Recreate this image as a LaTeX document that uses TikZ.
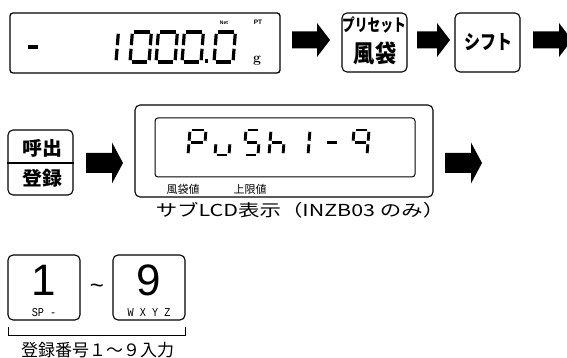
\documentclass[tikz,border=0pt]{standalone}
\usepackage{fontspec}
\usepackage{graphicx}
\newfontfamily\jp{Noto Sans CJK JP}
\newfontfamily\lib{Liberation Sans}
\newfontfamily\libmono{Liberation Mono}
\newcommand\fsz[1]{\fontsize{#1}{#1}\selectfont}
\tikzset{
  keybox/.style={draw, line width=1.1pt, rounded corners=5pt, inner sep=0pt},
  lcdbox/.style={draw, line width=1.3pt, rounded corners=3pt, inner sep=0pt},
  seg/.style={line width=3.2pt, line cap=butt},
  segthin/.style={line width=2.9pt, line cap=butt},
  txt/.style={inner sep=0pt},
  sx/.style={xscale=#1, transform shape},
}
\newcommand\segG{1.8}
\newcommand\sega{\draw[segstyle] (\segG,\H) -- (\W-\segG,\H);}
\newcommand\segb{\draw[segstyle] (\W,\H-\segG) -- (\W,\H/2+\segG);}
\newcommand\segc{\draw[segstyle] (\W,\H/2-\segG) -- (\W,\segG);}
\newcommand\segd{\draw[segstyle] (\segG,0) -- (\W-\segG,0);}
\newcommand\sege{\draw[segstyle] (0,\segG) -- (0,\H/2-\segG);}
\newcommand\segf{\draw[segstyle] (0,\H/2+\segG) -- (0,\H-\segG);}
\newcommand\segg{\draw[segstyle] (\segG,\H/2) -- (\W-\segG,\H/2);}
% x, ybottom, width, height, style, segments
\newcommand\sdig[6]{%
  \begin{scope}[shift={(#1,#2)}, x=1pt, y=1pt, xslant=0.08, segstyle/.style={#5}]
    \def\W{#3}\def\H{#4}%
    \foreach \s in {#6}{\csname seg\s\endcsname}%
  \end{scope}}
% x0, x1(tip), yc, shaft half, head half, head length
\newcommand\blockarrow[6]{%
  \fill (#1,#3-#4) -- (#2-#6,#3-#4) -- (#2-#6,#3-#5) -- (#2,#3) -- (#2-#6,#3+#5) -- (#2-#6,#3+#4) -- (#1,#3+#4) -- cycle;}
\begin{document}
\begin{tikzpicture}[x=1pt,y=-1pt]
\useasboundingbox (0,0) rectangle (567,358);
\clip (0,0) rectangle (567,358);

% ---------- Row 1 ----------
\node[lcdbox, minimum width=270pt, minimum height=60pt] (lcd) at (145,43) {};
\fill (28,45.3) rectangle (38,48.7);
\sdig{97}{62}{19}{30}{seg}{b,c}
\sdig{130}{62}{19}{30}{seg}{a,b,c,d,e,f}
\sdig{156}{62}{19}{30}{seg}{a,b,c,d,e,f}
\sdig{182}{62}{19}{30}{seg}{a,b,c,d,e,f}
\fill (204.5,59.5) rectangle (208,63);
\sdig{214}{62}{19}{30}{seg}{a,b,c,d,e,f}
\node[txt, font=\lib\bfseries\fsz{5}] (net) at (224,23) {Net};
\node[txt, font=\lib\bfseries\fsz{6.5}] (pt) at (258,22) {PT};
\node[txt, font=\bfseries\fsz{14}] (g) at (257,61) {g};

\blockarrow{292}{330}{40}{8.5}{17}{13}

\node[keybox, minimum width=65pt, minimum height=59pt] (preset) at (374.5,42.5) {};
\node[txt, font=\jp\bfseries\fsz{17}] (presettxt) at (374,25) {\scalebox{0.75}[1]{プリセット}};
\node[txt, font=\jp\bfseries\fsz{24}] (fuutai) at (375,53) {\scalebox{0.88}[1]{風袋}};

\blockarrow{417}{450}{40}{8.5}{17}{13}

\node[keybox, minimum width=65pt, minimum height=59pt] (shift) at (487.5,42.5) {};
\node[txt, font=\jp\bfseries\fsz{20}] (shifttxt) at (488,42) {\scalebox{0.8}[1]{シフト}};

\blockarrow{533}{572}{40}{8.5}{17}{13}

% ---------- Row 2 ----------
\node[keybox, minimum width=65pt, minimum height=65pt] (call) at (40.5,162.5) {};
\draw[line width=1.1pt] (call.west |- 0,163) -- (call.east |- 0,163);
\node[txt, font=\jp\bfseries\fsz{19}] (yobidashi) at (42,148) {\scalebox{1.05}[1]{呼出}};
\node[txt, font=\jp\bfseries\fsz{19}] (touroku) at (42,178) {\scalebox{1.05}[1]{登録}};

\blockarrow{86}{123}{163}{10}{20.5}{11}

\node[keybox, line width=1.1pt, minimum width=298pt, minimum height=92pt] (sub) at (284,151) {};
\node[lcdbox, line width=1pt, minimum width=260pt, minimum height=59pt] (subin) at (285,147.5) {};
\sdig{188}{155}{16}{25}{segthin}{a,b,e,f,g}
\sdig{215}{155}{14}{25}{segthin}{c,d,e}
\sdig{244}{155}{14}{25}{segthin}{a,f,g,c,d}
\sdig{269}{155}{14}{25}{segthin}{f,e,g,c}
\sdig{294}{155}{14}{25}{segthin}{b,c}
\sdig{324}{155}{14}{25}{segthin}{g}
\sdig{352}{155}{15}{25}{segthin}{a,b,c,f,g}
\node[txt, font=\jp\fsz{11}] (fuutaichi) at (183,189) {風袋値};
\node[txt, font=\jp\fsz{11}] (jougen) at (250,189) {上限値};
\node[txt, font=\jp\fsz{16.5}, sx=1.3] (cap1) at (300,210) {サブLCD表示（INZB03 のみ）};

\blockarrow{445}{482}{163}{10}{20.5}{11}

% ---------- Row 3 ----------
\node[keybox, minimum width=72pt, minimum height=65pt] (k1) at (44,287.5) {};
\node[txt, font=\lib\fsz{44}] (one) at (44,280.5) {1};
\node[txt, font=\libmono\fsz{12}] (sp) at (44,312.5) {\scalebox{0.85}[1]{SP -}};
\node[txt, font=\lib\fsz{24}] (tilde) at (97,289) {\textasciitilde};
\node[keybox, minimum width=72pt, minimum height=65pt] (k9) at (149,287.5) {};
\node[txt, font=\lib\fsz{44}] (nine) at (149,280.5) {9};
\node[txt, font=\libmono\fsz{12}] (wxyz) at (149,312.5) {\scalebox{0.85}[1]{W X Y Z}};
\coordinate (bl) at (8,327);
\coordinate (br) at (185,327);
\draw[line width=1pt] (bl) -- ++(0,8) -| (br);
\node[txt, font=\jp\fsz{17}] (cap2) at (97.5,350) {登録番号１～９入力};
\end{tikzpicture}
\end{document}
